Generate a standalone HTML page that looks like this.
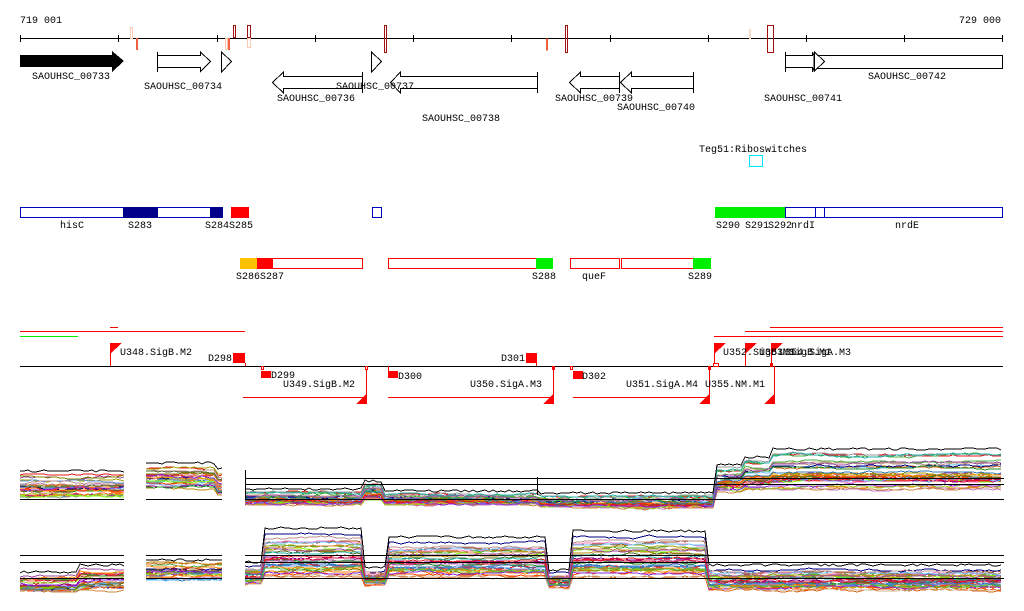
<!DOCTYPE html>
<html><head><meta charset="utf-8"><style>
html,body{margin:0;padding:0;background:#fff;width:1024px;height:611px;overflow:hidden}
svg{display:block}
text{font-family:"Liberation Mono","DejaVu Sans Mono",monospace;font-size:10px;fill:#000}
</style></head><body>
<svg id="s" width="1024" height="611" viewBox="0 0 1024 611" xmlns="http://www.w3.org/2000/svg" shape-rendering="crispEdges">
<text x="20" y="23">719 001</text>
<text x="1001" y="23" text-anchor="end">729 000</text>
<line x1="20" y1="38.5" x2="1003" y2="38.5" stroke="#000"/>
<g stroke="#000">
<line x1="20.5" y1="35" x2="20.5" y2="42"/><line x1="118.5" y1="35" x2="118.5" y2="42"/><line x1="217.5" y1="35" x2="217.5" y2="42"/><line x1="315.5" y1="35" x2="315.5" y2="42"/><line x1="413.5" y1="35" x2="413.5" y2="42"/><line x1="511.5" y1="35" x2="511.5" y2="42"/><line x1="610.5" y1="35" x2="610.5" y2="42"/><line x1="708.5" y1="35" x2="708.5" y2="42"/><line x1="806.5" y1="35" x2="806.5" y2="42"/><line x1="904.5" y1="35" x2="904.5" y2="42"/><line x1="1002.5" y1="35" x2="1002.5" y2="42"/>
</g>
<g fill="none">
<rect x="130.5" y="27.5" width="2" height="11" stroke="#f9c9b4"/>
<rect x="136.5" y="38.5" width="1" height="11" stroke="#f0603c"/>
<rect x="225.5" y="38.5" width="2" height="11" stroke="#f9c9b4"/>
<rect x="228.5" y="38.5" width="1" height="11" stroke="#f0603c"/>
<rect x="233.5" y="25.5" width="2" height="12" stroke="#a01010"/>
<rect x="247.5" y="25.5" width="3" height="12" stroke="#a01010"/>
<rect x="247.5" y="38.5" width="3" height="9" stroke="#f9c9b4"/>
<rect x="384.5" y="25.5" width="2" height="27" stroke="#a01010"/>
<rect x="546" y="38.5" width="2" height="12" fill="#f0603c"/>
<rect x="565.5" y="25.5" width="2" height="27" stroke="#a01010"/>
<rect x="749.5" y="29.5" width="1" height="9" stroke="#f9d9c9"/>
<rect x="767.5" y="25.5" width="6" height="27" stroke="#a01010"/>
</g>
<polygon points="20,55 112,55 112,51 124,61 112,72 112,67 20,67" fill="#000"/>
<text x="32" y="79">SAOUHSC_00733</text>
<polygon points="157.5,55.5 200.5,55.5 200.5,52 210.5,61.5 200.5,71.5 200.5,67.5 157.5,67.5" fill="none" stroke="#000"/>
<line x1="157.5" y1="52" x2="157.5" y2="72" stroke="#000"/>
<text x="144" y="89">SAOUHSC_00734</text>
<polygon points="221.5,52 231.5,61.5 221.5,72" fill="none" stroke="#000"/>
<polygon points="371.5,52 381.5,61.5 371.5,72" fill="none" stroke="#000"/>
<polygon points="362.5,76.5 283.5,76.5 283.5,72 272.5,82.5 283.5,93 283.5,88.5 362.5,88.5" fill="none" stroke="#000"/>
<line x1="362.5" y1="72" x2="362.5" y2="93" stroke="#000"/>
<text x="277" y="101">SAOUHSC_00736</text>
<text x="336" y="89">SAOUHSC_00737</text>
<polygon points="537.5,76.5 400.5,76.5 400.5,72 390.5,82.5 400.5,93 400.5,88.5 537.5,88.5" fill="none" stroke="#000"/>
<line x1="537.5" y1="72" x2="537.5" y2="93" stroke="#000"/>
<text x="422" y="121">SAOUHSC_00738</text>
<polygon points="619.5,76.5 580.5,76.5 580.5,72 569.5,82.5 580.5,93 580.5,88.5 619.5,88.5" fill="none" stroke="#000"/>
<line x1="619.5" y1="72" x2="619.5" y2="93" stroke="#000"/>
<text x="555" y="101">SAOUHSC_00739</text>
<polygon points="693.5,76.5 631.5,76.5 631.5,72 620.5,82.5 631.5,93 631.5,88.5 693.5,88.5" fill="none" stroke="#000"/>
<line x1="693.5" y1="72" x2="693.5" y2="93" stroke="#000"/>
<text x="617" y="110">SAOUHSC_00740</text>
<polygon points="785.5,55.5 812.5,55.5 812.5,52 814,55.5 814,67.5 812.5,72 812.5,67.5 785.5,67.5" fill="none" stroke="#000"/>
<line x1="785.5" y1="52" x2="785.5" y2="72" stroke="#000"/>
<text x="764" y="101">SAOUHSC_00741</text>
<rect x="814.5" y="55.5" width="188" height="13" fill="none" stroke="#000"/>
<polygon points="814.5,52 824.5,61.5 814.5,71" fill="#fff" stroke="#000"/>
<text x="868" y="79">SAOUHSC_00742</text>
<text x="699" y="152">Teg51:Riboswitches</text>
<rect x="749.5" y="155.5" width="13" height="11" fill="none" stroke="#00e5ff"/>
<rect x="20.5" y="207.5" width="202" height="10" fill="none" stroke="#0000c0"/>
<rect x="123" y="207" width="35" height="11" fill="#00008b"/>
<rect x="210" y="207" width="13" height="11" fill="#00008b"/>
<rect x="231" y="207" width="18" height="11" fill="#f00"/>
<rect x="372.5" y="207.5" width="9" height="10" fill="none" stroke="#0000c0"/>
<rect x="715" y="207" width="70" height="11" fill="#00ee00"/>
<rect x="785.5" y="207.5" width="217" height="10" fill="none" stroke="#0000c0"/>
<line x1="815.5" y1="207" x2="815.5" y2="218" stroke="#0000c0"/>
<line x1="824.5" y1="207" x2="824.5" y2="218" stroke="#0000c0"/>
<text x="60" y="228">hisC</text><text x="128" y="228">S283</text><text x="205" y="228">S284S285</text>
<text x="716" y="228">S290</text><text x="745" y="228">S291</text><text x="768" y="228">S292</text><text x="791" y="228">nrdI</text><text x="895" y="228">nrdE</text>
<rect x="240" y="258" width="17" height="11" fill="#ffc000"/>
<rect x="257" y="258" width="15" height="11" fill="#f00"/>
<rect x="272.5" y="258.5" width="90" height="10" fill="none" stroke="#f00"/>
<rect x="388.5" y="258.5" width="148" height="10" fill="none" stroke="#f00"/>
<rect x="536" y="258" width="17" height="11" fill="#00ee00"/>
<rect x="570.5" y="258.5" width="49" height="10" fill="none" stroke="#f00"/>
<rect x="621.5" y="258.5" width="72" height="10" fill="none" stroke="#f00"/>
<rect x="693" y="258" width="18" height="11" fill="#00ee00"/>
<text x="236" y="279">S286S287</text><text x="532" y="279">S288</text><text x="582" y="279">queF</text><text x="688" y="279">S289</text>
<g stroke="#f00">
<line x1="110" y1="327.5" x2="118" y2="327.5"/>
<line x1="20" y1="331.5" x2="245" y2="331.5"/>
<line x1="770" y1="327.5" x2="1003" y2="327.5"/>
<line x1="745" y1="331.5" x2="1003" y2="331.5"/>
<line x1="714" y1="336.5" x2="1003" y2="336.5"/>
<line x1="243" y1="397.5" x2="367" y2="397.5"/>
<line x1="388" y1="397.5" x2="553" y2="397.5"/>
<line x1="573" y1="397.5" x2="710" y2="397.5"/>
</g>
<line x1="20" y1="336.5" x2="78" y2="336.5" stroke="#00ee00"/>
<line x1="20" y1="366.5" x2="1003" y2="366.5" stroke="#000"/>
<g fill="#f00" stroke="none">
<rect x="110" y="343" width="1" height="23"/><polygon points="110,343 122,343 110,354"/>
<text x="120" y="355">U348.SigB.M2</text>
<rect x="233" y="353" width="12" height="10"/><rect x="245" y="363" width="1" height="3"/>
<text x="232" y="361" text-anchor="end">D298</text>
<rect x="261" y="371" width="10" height="7"/><rect x="261.5" y="366.5" width="2" height="3" fill="none" stroke="#f00"/>
<text x="271" y="378">D299</text>
<rect x="366" y="370" width="1" height="34"/><rect x="365.5" y="366.5" width="2" height="3" fill="none" stroke="#f00"/><polygon points="367,393 367,404 356,404"/>
<text x="283" y="387">U349.SigB.M2</text>
<rect x="388" y="366" width="1" height="6"/><rect x="388" y="371" width="10" height="7"/>
<text x="398" y="379">D300</text>
<rect x="526" y="353" width="11" height="10"/><rect x="536" y="363" width="1" height="3"/>
<text x="525" y="361" text-anchor="end">D301</text>
<rect x="553" y="366" width="1" height="38"/><rect x="552" y="366" width="3" height="4"/><polygon points="554,393 554,404 543,404"/>
<text x="470" y="387">U350.SigA.M3</text>
<rect x="570.5" y="366.5" width="2" height="3" fill="none" stroke="#f00"/><rect x="573" y="371" width="10" height="8"/>
<text x="582" y="379">D302</text>
<rect x="709" y="366" width="1" height="38"/><rect x="708" y="366" width="3" height="4"/><polygon points="710,393 710,404 699,404"/>
<text x="626" y="387">U351.SigA.M4</text>
<rect x="714" y="343" width="1" height="20"/><polygon points="714,343 726,343 714,354"/>
<rect x="713.5" y="363.5" width="5" height="3" fill="none" stroke="#f00"/>
<rect x="745" y="343" width="1" height="23"/><polygon points="745,343 757,343 745,354"/>
<rect x="771" y="343" width="1" height="20"/><polygon points="771,343 783,343 771,354"/><rect x="770" y="363" width="3" height="4"/>
<rect x="774" y="366" width="1" height="38"/><polygon points="775,393 775,404 764,404"/>
</g>
<text x="723" y="355">U352.SigB.M1</text>
<text x="759" y="355">U353.SigB.M1</text>
<text x="779" y="355">U354.SigA.M3</text>
<text x="705" y="387">U355.NM.M1</text>
<g id="plots" fill="none" stroke-width="1"></g>
</svg>
<script>
(function(){
var seed=7;function r(){seed=(seed*16807)%2147483647;return seed/2147483647;}
var cols=["#e41a1c","#377eb8","#4daf4a","#984ea3","#ff7f00","#a0a000","#a65628","#f781bf","#999999","#66c2ff","#d2691e","#8b008b","#7fff00","#ff6347","#808000","#c080c0","#000080","#b8860b","#ff4500","#228b22","#dc143c","#6495ed","#cd853f","#9acd32","#ff8c00","#bc8f8f","#556b2f","#8a2be2","#20b2aa","#d2b48c"];
var g=document.getElementById("plots"),NS="http://www.w3.org/2000/svg";
function pl(pts,c,w){var p=document.createElementNS(NS,"polyline");p.setAttribute("points",pts.join(" "));p.setAttribute("stroke",c);if(w)p.setAttribute("stroke-width",w);g.appendChild(p);}
function hl(x1,x2,y){pl([x1+","+(y+.5),x2+","+(y+.5)],"#000");}
function bundle(x1,x2,pieces,n){
 for(var i=0;i<n;i++){var t=Math.pow(r(),0.7),c=cols[i%cols.length];var pts=[],off=0;
  for(var x=x1;x<=x2;x+=4){var p=pieces[0];for(var k=0;k<pieces.length;k++)if(x>=pieces[k][0])p=pieces[k];
   off+=(r()-0.5)*2;off*=0.85;var y=p[2]+t*(p[3]-p[2])+off;pts.push(x+","+Math.round(y));}
  pl(pts,c);}
 var pts=[];for(var x=x1;x<=x2;x+=4){var p=pieces[0];for(var k=0;k<pieces.length;k++)if(x>=pieces[k][0])p=pieces[k];pts.push(x+","+Math.round(p[2]-3+(r()-0.5)*2));}
 pl(pts,"#000");
}
bundle(20,124,[[20,124,474,497]],28);
bundle(146,222,[[146,218,466,489],[218,222,472,495]],28);
bundle(245,1004,[[245,365,492,505],[365,385,484,500],[385,538,494,505],[538,715,496,508],[715,745,468,492],[745,770,460,490],[770,1004,452,490]],34);
hl(20,124,499);hl(146,222,499);
hl(245,1004,478);hl(245,1004,484);hl(245,1004,499);
pl(["245.5,470","245.5,499"],"#000");pl(["537.5,477","537.5,495"],"#000");
bundle(20,124,[[20,80,575,592],[80,124,568,590]],28);
bundle(146,222,[[146,222,563,581]],28);
bundle(245,1004,[[245,262,565,585],[262,365,531,578],[365,386,570,586],[386,548,540,578],[548,570,573,588],[570,708,534,578],[708,1004,568,590]],34);
hl(20,124,555);hl(20,124,562);hl(146,222,578);hl(20,124,578);hl(146,222,555);
hl(245,1004,555);hl(245,1004,562);hl(245,1004,578);
})();
</script>
</body></html>
